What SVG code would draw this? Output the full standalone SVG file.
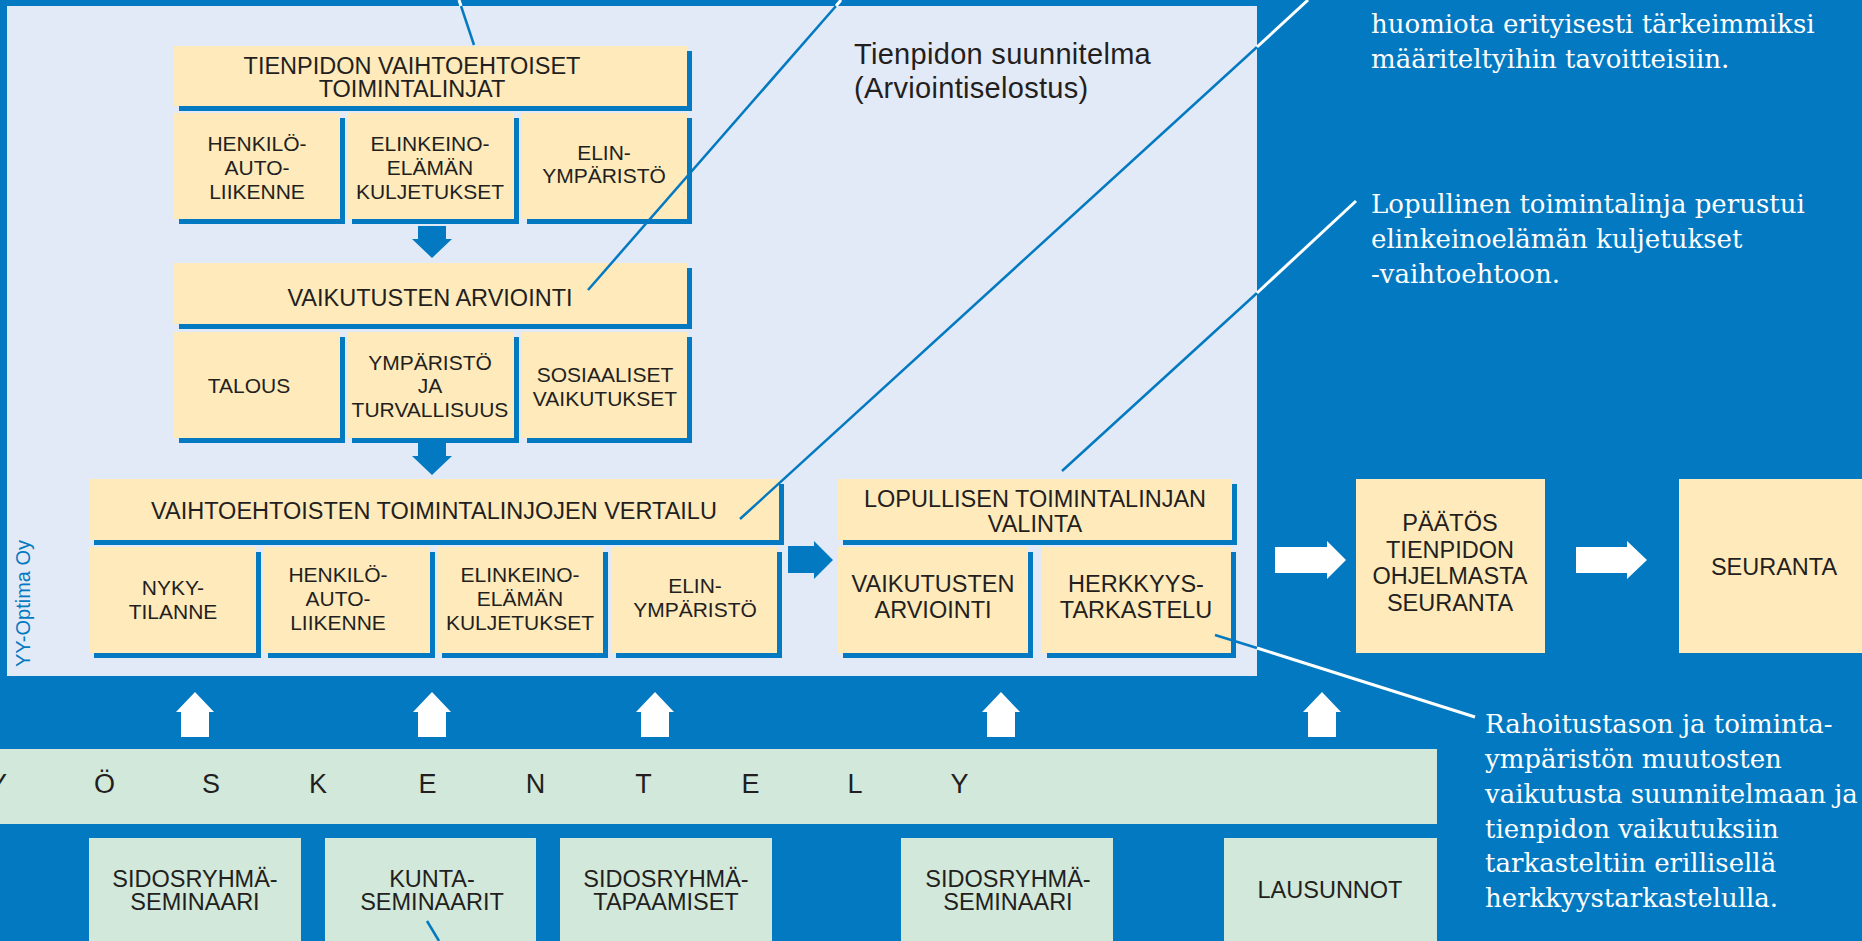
<svg xmlns="http://www.w3.org/2000/svg" width="1862" height="941" viewBox="0 0 1862 941">
<defs>
<style>
.bg{fill:#0279C1}
.panel{fill:#E3EAF7}
.box{fill:#FEEABB}
.sh{fill:#0279C1}
.gr{fill:#D1E8DA}
.t{font-family:"Liberation Sans",Arial,sans-serif;fill:#231F20;text-anchor:middle}
.s21{font-size:21px}
.s23{font-size:23.5px}
.ab{fill:#0279C1}
.aw{fill:#FFFFFF}
.lb{stroke:#0279C1;stroke-width:2.5;fill:none}
.lw{stroke:#FFFFFF;stroke-width:3;fill:none}
.note{font-family:"DejaVu Serif","Liberation Serif",serif;font-size:26px;fill:#FFFFFF}
.ttl{font-family:"Liberation Sans",Arial,sans-serif;font-size:29px;fill:#231F20;letter-spacing:0.3px}
.work{font-family:"Liberation Sans",Arial,sans-serif;font-size:27px;fill:#231F20;text-anchor:middle}
</style>
</defs>
<rect class="bg" x="0" y="0" width="1862" height="941"/>
<rect class="panel" x="7" y="6" width="1250" height="670"/>
<text class="ttl" x="854" y="64">Tienpidon suunnitelma</text>
<text class="ttl" x="854" y="98">(Arviointiselostus)</text>
<text transform="translate(30,667) rotate(-90)" font-family="Liberation Sans, Arial, sans-serif" font-size="20" fill="#0279C1">YY-Optima Oy</text>

<g id="n-alt-header"><rect class="sh" x="179" y="51" width="513" height="60"/><rect class="box" x="174" y="46" width="513" height="60"/><text class="t s23"><tspan x="412" y="74">TIENPIDON VAIHTOEHTOISET</tspan><tspan x="412" y="97">TOIMINTALINJAT</tspan></text></g>
<g id="n-alt-henkilo"><rect class="sh" x="179" y="118" width="166" height="106"/><rect class="box" x="174" y="113" width="166" height="106"/><text class="t s21"><tspan x="257" y="151">HENKILÖ-</tspan><tspan x="257" y="175">AUTO-</tspan><tspan x="257" y="199">LIIKENNE</tspan></text></g>
<g id="n-alt-elinkeino"><rect class="sh" x="352" y="118" width="167" height="106"/><rect class="box" x="347" y="113" width="167" height="106"/><text class="t s21"><tspan x="430" y="151">ELINKEINO-</tspan><tspan x="430" y="175">ELÄMÄN</tspan><tspan x="430" y="199">KULJETUKSET</tspan></text></g>
<g id="n-alt-elinymp"><rect class="sh" x="527" y="118" width="165" height="106"/><rect class="box" x="522" y="113" width="165" height="106"/><text class="t s21"><tspan x="604" y="160">ELIN-</tspan><tspan x="604" y="183">YMPÄRISTÖ</tspan></text></g>

<g id="n-eval-header"><rect class="sh" x="179" y="268" width="513" height="61"/><rect class="box" x="174" y="263" width="513" height="61"/><text class="t s23" x="430" y="306">VAIKUTUSTEN ARVIOINTI</text></g>
<g id="n-eval-talous"><rect class="sh" x="179" y="337" width="166" height="106"/><rect class="box" x="174" y="332" width="166" height="106"/><text class="t s21" x="249" y="393">TALOUS</text></g>
<g id="n-eval-ymp"><rect class="sh" x="352" y="337" width="167" height="106"/><rect class="box" x="347" y="332" width="167" height="106"/><text class="t s21"><tspan x="430" y="370">YMPÄRISTÖ</tspan><tspan x="430" y="393">JA</tspan><tspan x="430" y="417">TURVALLISUUS</tspan></text></g>
<g id="n-eval-sos"><rect class="sh" x="527" y="337" width="165" height="106"/><rect class="box" x="522" y="332" width="165" height="106"/><text class="t s21"><tspan x="605" y="382">SOSIAALISET</tspan><tspan x="605" y="406">VAIKUTUKSET</tspan></text></g>

<g id="n-cmp-header"><rect class="sh" x="94" y="484" width="690" height="61"/><rect class="box" x="89" y="479" width="690" height="61"/><text class="t s23" x="434" y="519">VAIHTOEHTOISTEN TOIMINTALINJOJEN VERTAILU</text></g>
<g id="n-cmp-nyky"><rect class="sh" x="94" y="552" width="167" height="106"/><rect class="box" x="89" y="547" width="167" height="106"/><text class="t s21"><tspan x="173" y="595">NYKY-</tspan><tspan x="173" y="619">TILANNE</tspan></text></g>
<g id="n-cmp-henkilo"><rect class="sh" x="268" y="552" width="167" height="106"/><rect class="box" x="263" y="547" width="167" height="106"/><text class="t s21"><tspan x="338" y="582">HENKILÖ-</tspan><tspan x="338" y="606">AUTO-</tspan><tspan x="338" y="630">LIIKENNE</tspan></text></g>
<g id="n-cmp-elinkeino"><rect class="sh" x="442" y="552" width="166" height="106"/><rect class="box" x="437" y="547" width="166" height="106"/><text class="t s21"><tspan x="520" y="582">ELINKEINO-</tspan><tspan x="520" y="606">ELÄMÄN</tspan><tspan x="520" y="630">KULJETUKSET</tspan></text></g>
<g id="n-cmp-elinymp"><rect class="sh" x="616" y="552" width="166" height="106"/><rect class="box" x="611" y="547" width="166" height="106"/><text class="t s21"><tspan x="695" y="593">ELIN-</tspan><tspan x="695" y="617">YMPÄRISTÖ</tspan></text></g>

<g id="n-final-header"><rect class="sh" x="843" y="484" width="394" height="61"/><rect class="box" x="838" y="479" width="394" height="61"/><text class="t s23"><tspan x="1035" y="507">LOPULLISEN TOIMINTALINJAN</tspan><tspan x="1035" y="532">VALINTA</tspan></text></g>
<g id="n-final-vaik"><rect class="sh" x="843" y="552" width="190" height="106"/><rect class="box" x="838" y="547" width="190" height="106"/><text class="t s23"><tspan x="933" y="592">VAIKUTUSTEN</tspan><tspan x="933" y="618">ARVIOINTI</tspan></text></g>
<g id="n-final-herk"><rect class="sh" x="1047" y="552" width="189" height="106"/><rect class="box" x="1042" y="547" width="189" height="106"/><text class="t s23"><tspan x="1136" y="592">HERKKYYS-</tspan><tspan x="1136" y="618">TARKASTELU</tspan></text></g>

<g id="n-paatos"><rect class="box" x="1356" y="479" width="189" height="174"/><text class="t s23"><tspan x="1450" y="531">PÄÄTÖS</tspan><tspan x="1450" y="558">TIENPIDON</tspan><tspan x="1450" y="584">OHJELMASTA</tspan><tspan x="1450" y="611">SEURANTA</tspan></text></g>
<g id="n-seuranta"><rect class="box" x="1679" y="479" width="190" height="174"/><text class="t s23" x="1774" y="575">SEURANTA</text></g>

<g id="n-tyoskentely"><rect class="gr" x="0" y="749" width="1437" height="75"/><text class="work" x="-2 104.5 211 318 427.5 535.5 643.5 750.5 855 959.5" y="793">YÖSKENTELY</text></g>
<g id="n-sem1"><rect class="gr" x="89" y="838" width="212" height="110"/><text class="t s23"><tspan x="195" y="887">SIDOSRYHMÄ-</tspan><tspan x="195" y="910">SEMINAARI</tspan></text></g>
<g id="n-kunta"><rect class="gr" x="325" y="838" width="211" height="110"/><text class="t s23"><tspan x="432" y="887">KUNTA-</tspan><tspan x="432" y="910">SEMINAARIT</tspan></text></g>
<g id="n-tapaamiset"><rect class="gr" x="560" y="838" width="212" height="110"/><text class="t s23"><tspan x="666" y="887">SIDOSRYHMÄ-</tspan><tspan x="666" y="910">TAPAAMISET</tspan></text></g>
<g id="n-sem2"><rect class="gr" x="901" y="838" width="212" height="110"/><text class="t s23"><tspan x="1008" y="887">SIDOSRYHMÄ-</tspan><tspan x="1008" y="910">SEMINAARI</tspan></text></g>
<g id="n-lausunnot"><rect class="gr" x="1224" y="838" width="213" height="110"/><text class="t s23" x="1330" y="898">LAUSUNNOT</text></g>

<g id="connectors">
<polygon class="ab" points="418,226 446,226 446,239 452,239 432,258 412,239 418,239"/>
<polygon class="ab" points="418,443 446,443 446,456 452,456 432,475 412,456 418,456"/>
<polygon class="ab" points="788,546 814,546 814,541 833,560 814,579 814,573 788,573"/>
<polygon class="aw" points="1275,547 1327,547 1327,541 1346,560 1327,579 1327,573 1275,573"/>
<polygon class="aw" points="1576,547 1627,547 1627,541 1647,560 1627,579 1627,573 1576,573"/>
<polygon class="aw" points="181,737 209,737 209,712 214,712 195,692 176,712 181,712"/>
<polygon class="aw" points="418,737 446,737 446,712 451,712 432,692 413,712 418,712"/>
<polygon class="aw" points="641,737 669,737 669,712 674,712 655,692 636,712 641,712"/>
<polygon class="aw" points="987,737 1015,737 1015,712 1020,712 1001,692 982,712 987,712"/>
<polygon class="aw" points="1308,737 1336,737 1336,712 1341,712 1322,692 1303,712 1308,712"/>
<line class="lb" x1="474" y1="45" x2="461" y2="6"/>
<line class="lw" x1="461" y1="6" x2="459" y2="0"/>
<line class="lb" x1="588" y1="290" x2="836" y2="6"/>
<line class="lw" x1="836" y1="6" x2="841" y2="0"/>
<line class="lb" x1="740" y1="519" x2="1257" y2="47"/>
<line class="lw" x1="1257" y1="47" x2="1308" y2="0"/>
<line class="lb" x1="1062" y1="471" x2="1257" y2="293"/>
<line class="lw" x1="1257" y1="293" x2="1356" y2="201"/>
<line class="lb" x1="1215" y1="635" x2="1257" y2="648"/>
<line class="lw" x1="1257" y1="648" x2="1475" y2="717"/>
<line class="lb" x1="427" y1="921" x2="439" y2="941"/>
</g>

<g id="notes">
<text class="note"><tspan x="1371" y="33">huomiota erityisesti tärkeimmiksi</tspan><tspan x="1371" y="68">määriteltyihin tavoitteisiin.</tspan></text>
<text class="note"><tspan x="1371" y="213">Lopullinen toimintalinja perustui</tspan><tspan x="1371" y="248">elinkeinoelämän kuljetukset</tspan><tspan x="1371" y="283">-vaihtoehtoon.</tspan></text>
<text class="note"><tspan x="1485" y="733">Rahoitustason ja toiminta-</tspan><tspan x="1485" y="768">ympäristön muutosten</tspan><tspan x="1485" y="803">vaikutusta suunnitelmaan ja</tspan><tspan x="1485" y="838">tienpidon vaikutuksiin</tspan><tspan x="1485" y="872">tarkasteltiin erillisellä</tspan><tspan x="1485" y="907">herkkyystarkastelulla.</tspan></text>
</g>
</svg>
